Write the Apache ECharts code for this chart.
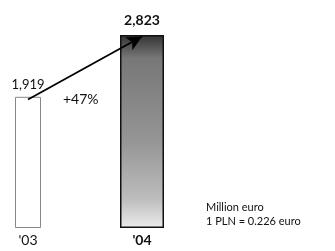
<!DOCTYPE html>
<html><head><meta charset="utf-8">
<script src="https://cdn.jsdelivr.net/npm/echarts@6/dist/echarts.min.js"></script>
<style>html,body{margin:0;padding:0;background:#fff}#c{width:335px;height:251px}</style>
</head><body><div id="c"></div>
<script>
const categories = ["'03", "'04"];
const values = [1919, 2823];
const valueLabels = ["1,919", "2,823"];
const growthLabel = "+47%";
const noteLines = ["Million euro", "1 PLN = 0.226 euro"];

const chart = echarts.init(document.getElementById('c'));
const font = 'Lato';
const baseX = {
  type: 'category', data: categories, boundaryGap: false,
  axisLine: {show: false}, axisTick: {show: false}, splitLine: {show: false}
};
chart.setOption({
  animation: false,
  grid: {left: 28, right: 193, top: 35, bottom: 23},
  xAxis: [
    Object.assign({}, baseX, {
      axisLabel: {margin: 5, fontFamily: font, fontSize: 14, color: '#111',
        formatter: function (v, i) { return i === 1 ? '{b|' + v + '}' : v; },
        rich: {b: {fontFamily: font, fontSize: 14, fontWeight: 'bold', color: '#111'}}}
    }),
    Object.assign({}, baseX, {axisLabel: {show: false}})
  ],
  yAxis: {type: 'value', min: 0, max: values[1], show: false, splitLine: {show: false}},
  series: [
    {
      type: 'bar', barWidth: 26, xAxisIndex: 0,
      data: [values[0], '-'],
      itemStyle: {color: '#fff', borderColor: '#888', borderWidth: 1},
      label: {show: true, position: 'top', distance: 5, formatter: valueLabels[0],
        fontFamily: font, fontSize: 13, color: '#111'},
      markLine: {
        silent: true, symbol: ['none', 'arrow'], symbolSize: [11, 15],
        lineStyle: {color: '#000', width: 1.8, type: 'solid'},
        label: {show: false},
        data: [[{coord: [0, 1880]}, {coord: [1, 2800]}]]
      }
    },
    {
      type: 'bar', barWidth: 44, xAxisIndex: 1,
      data: ['-', values[1]],
      itemStyle: {
        color: {type: 'linear', x: 0, y: 0, x2: 0, y2: 1, colorStops: [
          {offset: 0, color: '#333'}, {offset: 0.12, color: '#777'},
          {offset: 0.55, color: '#959595'}, {offset: 0.85, color: '#bdbdbd'},
          {offset: 1, color: '#ececec'}]},
        borderColor: '#111', borderWidth: 1.5
      },
      label: {show: true, position: 'top', distance: 8, formatter: valueLabels[1],
        fontFamily: font, fontSize: 14, fontWeight: 'bold', color: '#111'}
    }
  ],
  graphic: [
    {type: 'text', left: 63, top: 92, style: {text: growthLabel, font: '14px ' + font, fill: '#111'}},
    {type: 'text', left: 206, top: 200, style: {text: noteLines.join('\n'), font: '11px ' + font, fill: '#111', lineHeight: 14}}
  ]
});
</script></body></html>
